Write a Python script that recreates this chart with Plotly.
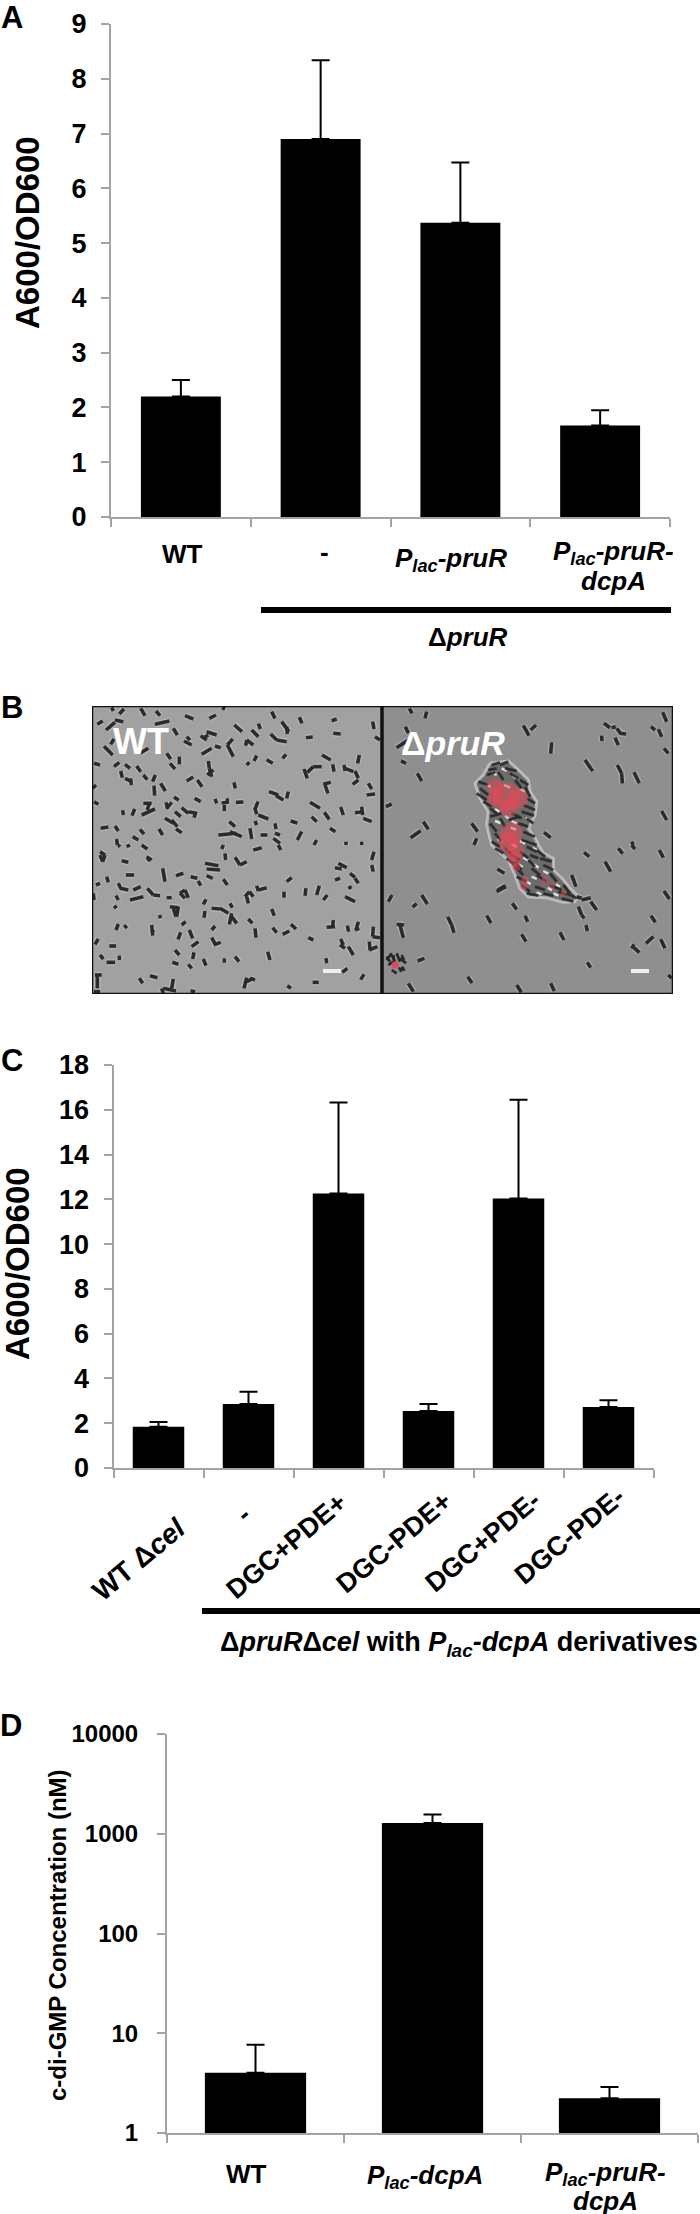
import plotly.graph_objects as go

W, H = 700, 2214
FONT = "Liberation Sans"
AXIS_GREY = "#a3a3a3"

# panel A
cats_a = ["WT", "-", "P_lac-pruR", "P_lac-pruR-dcpA"]
vals_a = [2.2, 6.9, 5.37, 1.67]
errs_a = [0.3, 1.44, 1.1, 0.28]
ticks_a = [0, 1, 2, 3, 4, 5, 6, 7, 8, 9]

# panel C
cats_c = ["WT dcel", "-", "DGC+PDE+", "DGC-PDE+", "DGC+PDE-", "DGC-PDE-"]
vals_c = [1.84, 2.86, 12.26, 2.55, 12.04, 2.72]
errs_c = [0.22, 0.55, 4.06, 0.31, 4.41, 0.31]
ticks_c = [0, 2, 4, 6, 8, 10, 12, 14, 16, 18]

# panel D
cats_d = ["WT", "P_lac-dcpA", "P_lac-pruR-dcpA"]
vals_d = [4.02, 1283, 2.23]
errs_d = [3.65, 280, 0.66]
ticks_d = [1, 10, 100, 1000, 10000]

rods_wt_top = [
    (65,68,70,78),(88,87,102,72),(152,70,165,92),(198,78,210,92),(22,118,38,108),(48,135,75,112),(75,105,100,110),
    (62,178,72,162),(42,184,68,210),(195,118,238,108),(250,130,262,150),(285,92,310,102),(358,100,378,90),(398,75,403,65),
    (545,80,555,100),(628,97,636,115),(725,107,740,102),(848,110,852,132),(433,120,456,140),(505,116,511,132),(485,135,505,155),
    (575,110,597,140),(590,125,592,147),(542,147,560,165),(560,165,590,170),(648,158,668,156),(730,145,752,147),(855,155,870,165),
    (290,155,300,165),(282,168,305,180),(332,152,350,165),(350,140,380,150),(338,160,355,150),(375,183,392,188),(335,208,365,190),
    (428,162,412,180),(412,180,430,215),(467,182,470,165),(470,165,490,180),(150,205,175,190),(230,205,242,222),(240,235,255,252),
    (268,215,268,238),(355,228,358,250),(358,250,365,275),(352,270,370,255),(470,240,478,232),(492,228,500,212),(530,224,548,235),
    (578,220,588,208),(696,210,722,225),(728,238,732,260),(803,235,808,210),(12,235,30,240),(72,245,88,232),(105,238,120,250),
    (140,243,152,260),(92,258,97,278),(105,280,125,290),(122,280,124,300),(160,270,172,284),(188,290,196,270),(290,288,310,276),
    (322,285,336,305),(642,252,652,280),(652,262,670,245),(670,245,695,245),(762,240,765,258),(765,250,790,260),(795,258,805,280),
    (788,298,805,285),(432,292,436,310),(18,300,8,310),(835,295,845,312),(830,330,855,327),(700,298,722,292),(705,300,714,325),
    (212,295,226,318),(192,302,194,332),(252,336,266,346),(314,340,332,350),(375,342,380,355),(395,354,415,352),(412,340,412,355),
    (403,360,403,378),(438,352,460,351),(504,350,494,375),(495,370,500,388),(505,390,535,402),(537,320,565,330),(595,320,590,340),
    (558,332,580,345),(12,350,25,358),(660,352,690,370),(98,376,100,390),(126,392,134,372),(160,355,185,355),(178,355,172,375),
    (155,390,195,372),(230,370,245,352),(228,352,233,372),(255,380,272,395),(275,368,295,385),(295,380,318,385),(318,380,312,398),
    (752,366,760,390),(795,383,818,380),(815,365,818,390),(703,382,718,403),(665,395,680,410),(225,400,250,415),(245,405,262,425),
    (258,432,275,443),(820,400,845,410),(32,430,55,426),(75,423,85,438),(150,433,162,447),(207,432,218,450),(128,455,145,465),
    (495,408,500,420),(602,408,622,414),(720,430,736,440),(555,415,558,432),(418,410,435,425),(385,450,440,445),(420,440,455,455),
    (480,430,485,462),(512,450,532,450),(555,445,570,450),(550,460,570,475),(635,440,622,465),(80,462,82,480),(680,465,672,480),
    (768,470,768,480),(815,470,815,480),
]
rods_wt_bottom = [
    (30,20,45,30),(30,30,38,50),(45,30,38,50),(95,47,115,52),(170,35,185,45),(172,40,180,48),(85,0,90,5),(110,5,120,0),(155,0,172,12),
    (395,12,400,0),(490,15,515,8),(405,25,407,45),(435,37,450,60),(450,60,470,50),(565,0,572,15),(845,45,852,20),(845,60,850,80),
    (345,55,385,62),(350,72,390,75),(735,68,755,72),(745,55,770,68),(108,90,132,90),(50,95,55,112),(218,70,225,110),(258,92,280,85),
    (302,95,322,100),(325,108,332,122),(350,92,368,100),(400,103,412,120),(590,110,605,98),(735,105,750,100),(780,85,795,97),
    (795,100,805,115),(85,115,92,130),(90,130,115,135),(130,135,152,125),(172,130,190,150),(190,150,210,152),(230,158,245,158),
    (270,145,285,135),(285,135,295,158),(270,145,285,160),(18,120,30,115),(10,145,12,165),(78,152,85,165),(120,165,160,155),
    (340,178,348,163),(420,175,427,188),(645,152,648,130),(680,150,688,122),(700,165,712,150),(582,140,582,158),(465,155,478,140),
    (478,140,490,155),(470,155,475,175),(500,122,505,138),(505,135,530,128),(775,130,785,125),(765,155,795,170),(72,190,80,182),
    (240,185,265,188),(250,190,258,215),(265,185,260,215),(345,198,342,218),(365,190,390,192),(390,190,415,205),(425,205,418,238),
    (425,215,440,235),(545,192,553,212),(205,216,215,214),(475,222,487,235),(275,240,287,230),(185,240,188,272),(185,255,192,262),
    (78,255,85,237),(103,240,110,250),(365,255,375,243),(298,255,308,280),(272,262,264,283),(548,248,560,263),(578,268,598,258),
    (603,238,618,252),(495,250,498,278),(710,247,735,245),(730,225,728,245),(772,242,776,260),(795,255,808,250),(805,230,798,255),
    (850,245,848,275),(848,275,870,278),(655,278,670,285),(365,278,378,302),(375,298,392,292),(305,305,325,290),(15,298,25,282),
    (58,303,78,303),(750,300,765,310),(752,282,760,300),(775,305,790,330),(838,290,840,315),(838,315,862,305),(255,315,268,330),
    (312,322,308,342),(533,320,540,345),(30,330,40,342),(88,332,88,345),(50,352,75,352),(247,352,265,358),(295,358,305,370),
    (340,342,348,362),(403,340,403,353),(435,335,447,350),(708,340,710,355),(757,382,772,370),(812,404,822,388),(180,392,202,398),
    (148,400,158,415),(250,402,245,430),(220,430,258,438),(215,430,220,445),(302,437,315,440),(470,398,462,430),(480,400,495,405),
    (470,410,490,400),(592,422,603,430),(668,412,686,412),(15,390,35,390),(22,390,22,430),(12,440,30,440),
]
rods_mut_top = [
    (88,70,96,85),(140,80,135,100),(76,125,85,145),(50,188,85,165),(63,228,78,235),(112,265,125,288),(430,122,447,152),(452,135,468,120),
    (515,172,512,206),(672,115,690,128),(695,128,707,125),(710,130,722,145),(718,145,738,147),(665,152,666,168),(705,158,715,180),
    (813,125,825,135),(835,133,845,155),(848,82,860,110),(852,190,865,205),(615,225,638,258),(712,240,725,265),(725,265,727,295),
    (762,262,778,295),(845,378,860,405),(18,365,35,357),(130,410,145,433),(92,458,122,437),(275,415,293,440),(282,480,290,460),
    (492,442,512,458),(755,470,760,480),
]
rods_mut_bottom = [
    (612,22,628,35),(675,50,692,80),(715,10,728,26),(755,0,765,12),(838,15,850,38),(852,138,868,162),(352,72,373,85),(350,140,378,125),
    (352,136,376,122),(575,90,588,125),(590,155,605,160),(605,165,632,158),(632,170,650,195),(595,185,605,210),(605,210,613,220),
    (397,175,410,193),(435,212,443,230),(320,212,333,234),(203,215,215,240),(215,240,222,263),(36,150,25,170),(125,150,142,177),
    (98,186,110,176),(50,238,72,240),(60,240,70,278),(425,268,438,290),(540,262,552,285),(618,240,622,258),(813,212,826,232),
    (798,295,820,275),(842,283,855,310),(755,310,762,298),(762,308,778,323),(622,352,632,368),(113,348,133,340),(263,395,276,414),
    (85,415,100,440),(410,420,424,442),(512,415,523,438),(865,390,875,400),
]
# clump in the mutant field, same crop as rods_mut_top with y running on past 480
clump_outline = [
    (330,235),(385,228),(415,255),(445,285),(450,320),(470,350),(465,390),(445,430),(465,460),(475,480),(490,505),(520,520),(520,555),
    (550,585),(570,610),(590,630),(585,650),(550,652),(500,638),(445,635),(420,610),(405,570),(385,525),(345,490),(335,480),(320,420),
    (325,380),(300,340),(285,295),(310,270),
]
clump_rods = [
    (335,240,360,232),(360,240,385,230),(325,255,350,250),(375,250,410,258),(320,270,345,262),(355,262,370,285),(390,265,415,280),
    (295,290,325,300),(300,310,325,330),(420,285,445,300),(405,285,425,310),(435,305,450,335),(290,325,320,345),(310,350,335,365),
    (440,340,465,355),(430,360,465,375),(330,370,350,385),(425,380,462,392),(395,385,425,400),(330,395,365,385),(385,405,420,395),
    (330,415,350,440),(415,415,445,425),(345,445,365,470),(430,440,465,455),(335,470,360,485),(425,465,470,480),(375,488,395,510),
    (440,485,470,500),(345,490,370,505),(420,500,445,520),(470,495,495,515),(380,520,405,540),(445,525,465,545),(480,520,515,530),
    (405,545,430,570),(455,550,480,570),(490,540,520,555),(410,575,440,590),(470,570,500,590),(510,565,530,590),(425,600,450,620),
    (465,605,495,615),(510,600,545,615),(440,625,475,632),(490,625,520,632),(535,620,560,630),(550,600,570,625),(560,625,590,640),
    (545,640,580,650),(395,510,420,525),(405,530,425,555),(450,510,475,520),(360,400,375,425),(440,400,460,415),
]
clump_light_rods = [
    (335,262,350,270),(365,250,380,258),(398,272,410,280),(318,298,332,306),(420,312,434,320),(372,300,390,308),(345,372,358,380),
    (345,408,362,414),(375,392,388,402),(438,398,452,406),(392,428,408,434),(352,462,368,470),(395,408,410,416),(420,468,436,476),
    (458,488,472,496),(395,478,410,486),(430,518,445,526),(462,538,476,548),(490,558,505,566),(438,588,452,598),(503,608,516,616),
    (528,598,540,606),(470,622,484,628),(415,538,428,546),(455,575,470,582),(520,625,535,632),
]
clump_red_x = [345,380,415,345,385,395,385,405,405,410,435,432,495,517,550]
clump_red_y = [305,335,340,340,370,445,470,495,520,545,585,605,585,600,628]
clump_red_s = [16,28,20,16,18,22,20,18,14,8,7,7,7,6,6]
# small clump low on the left of the mutant field, rods_mut_bottom crop
clump2_rods = [
    (20,345,35,325),(35,330,45,350),(50,325,60,350),(60,340,78,355),(25,360,40,350),(35,375,50,385),(55,370,75,375),(60,380,70,365),
    (40,330,42,345),(20,335,30,350),(65,330,72,345),
]
smudge_rods = [(120,1060,147,1085)]


def fx(x):
    return x / W


def fy(y):
    return 1 - y / H


def rod_xy(rods, ox, oy):
    xs, ys = [], []
    for x0, y0, x1, y1 in rods:
        xs += [ox + x0 / 3, ox + x1 / 3, None]
        ys += [oy + y0 / 3, oy + y1 / 3, None]
    return xs, ys


def label(text, x, y, size=26, color="black", angle=0, xref="paper", xshift=0):
    px = x if xref != "paper" else fx(x)
    return dict(text=text, x=px, y=fy(y), xref=xref, yref="paper", xshift=xshift, showarrow=False,
                xanchor="center", yanchor="middle", textangle=angle, align="center",
                font=dict(family=FONT, size=size, color=color, weight="bold"))


fig = go.Figure()

for n, (cats, vals, errs) in enumerate([(cats_a, vals_a, errs_a), (cats_c, vals_c, errs_c), (cats_d, vals_d, errs_d)], start=1):
    fig.add_trace(go.Bar(
        x=cats, y=vals, xaxis=f"x{n}", yaxis=f"y{n}", marker=dict(color="black", line=dict(width=0)),
        error_y=dict(type="data", symmetric=False, array=errs, arrayminus=[0] * len(errs),
                     color="black", thickness=2, width=9),
        showlegend=False,
    ))


def bar_axes(n, cats, x0, x1, top, bottom, ticks, log=False):
    xa = dict(domain=[fx(x0), fx(x1)], type="category", categoryorder="array", categoryarray=cats,
              range=[-0.5, len(cats) - 0.5], tickson="boundaries", ticks="outside", ticklen=8, tickwidth=2,
              tickcolor=AXIS_GREY, linecolor=AXIS_GREY, linewidth=2, showticklabels=False, showgrid=False,
              anchor=f"y{n}", zeroline=False, automargin=False)
    ya = dict(domain=[fy(bottom), fy(top)], ticks="outside", ticklen=8, tickwidth=2, tickcolor=AXIS_GREY,
              linecolor=AXIS_GREY, linewidth=2, showgrid=False, zeroline=False, anchor=f"x{n}", automargin=False,
              tickvals=ticks, ticktext=[str(t) for t in ticks], ticklabelstandoff=9,
              tickfont=dict(family=FONT, size=27, color="black", weight="bold"))
    if log:
        ya.update(type="log", range=[0, 4], ticklabelstandoff=14,
                  tickfont=dict(family=FONT, size=24, color="black", weight="bold"))
    else:
        ya.update(range=[0, ticks[-1]])
    fig.update_layout({f"xaxis{n}": xa, f"yaxis{n}": ya})


bar_axes(1, cats_a, 111, 670, 24, 517, ticks_a)
bar_axes(2, cats_c, 113.5, 653.5, 1065, 1468, ticks_c)
bar_axes(3, cats_d, 167, 698, 1734, 2133, ticks_d, log=True)

# micrograph panel, axis units are page pixels
fig.update_layout(
    xaxis4=dict(domain=[fx(92), fx(673)], range=[92, 673], visible=False, anchor="y4", automargin=False),
    yaxis4=dict(domain=[fy(994), fy(706)], range=[994, 706], visible=False, anchor="x4", automargin=False),
)

micro = dict(xaxis="x4", yaxis="y4", showlegend=False, hoverinfo="skip")

rod_x, rod_y = [], []
for rods, ox, oy in [(rods_wt_top, 90, 685), (rods_wt_bottom, 90, 845), (rods_mut_top, 380, 685), (rods_mut_bottom, 380, 845)]:
    xs, ys = rod_xy(rods, ox, oy)
    rod_x += xs
    rod_y += ys

clump_x = [380 + p[0] / 3 for p in clump_outline] + [380 + clump_outline[0][0] / 3]
clump_y = [685 + p[1] / 3 for p in clump_outline] + [685 + clump_outline[0][1] / 3]
fig.add_trace(go.Scatter(x=clump_x, y=clump_y, mode="lines", fill="toself", fillcolor="#6c6c6c",
                         line=dict(color="rgba(235,235,235,0.55)", width=3), **micro))
fig.add_trace(go.Scatter(x=rod_x, y=rod_y, mode="lines", line=dict(color="rgba(225,225,225,0.3)", width=6.5), **micro))
smx, smy = rod_xy(smudge_rods, 90, 685)
fig.add_trace(go.Scatter(x=smx, y=smy, mode="lines", line=dict(color="#777777", width=3), **micro))
fig.add_trace(go.Scatter(x=rod_x, y=rod_y, mode="lines", line=dict(color="#2b2b2b", width=3.6), **micro))

lx, ly = rod_xy(clump_light_rods, 380, 685)
fig.add_trace(go.Scatter(x=lx, y=ly, mode="lines", line=dict(color="rgba(245,245,245,0.85)", width=2.4), **micro))
cx, cy = rod_xy(clump_rods, 380, 685)
fig.add_trace(go.Scatter(x=cx, y=cy, mode="lines", line=dict(color="rgba(40,40,40,0.9)", width=2.8), **micro))
fig.add_trace(go.Scatter(x=[380 + v / 3 for v in clump_red_x], y=[685 + v / 3 for v in clump_red_y], mode="markers",
                         marker=dict(color="rgba(245,70,85,0.68)", size=clump_red_s, line=dict(width=0)), **micro))
c2x, c2y = rod_xy(clump2_rods, 380, 845)
fig.add_trace(go.Scatter(x=c2x, y=c2y, mode="lines", line=dict(color="#262626", width=2.6), **micro))
fig.add_trace(go.Scatter(x=[395], y=[965], mode="markers", marker=dict(color="rgba(240,60,80,0.85)", size=7), **micro))

shapes = [
    # microscope field backgrounds
    dict(type="rect", xref="x4", yref="y4", x0=92, x1=382, y0=706, y1=994, fillcolor="#a1a1a1", line_width=0, layer="below"),
    dict(type="rect", xref="x4", yref="y4", x0=382, x1=673, y0=706, y1=994, fillcolor="#8f8f8f", line_width=0, layer="below"),
    # scale bars
    dict(type="rect", xref="x4", yref="y4", x0=323, x1=341, y0=969, y1=973, fillcolor="#efefef", line_width=0),
    dict(type="rect", xref="x4", yref="y4", x0=631, x1=649, y0=969, y1=973, fillcolor="#efefef", line_width=0),
    # frame and divider
    dict(type="rect", xref="x4", yref="y4", x0=92, x1=673, y0=706, y1=994, line=dict(color="#111111", width=2.5)),
    dict(type="line", xref="x4", yref="y4", x0=382, x1=382, y0=706, y1=994, line=dict(color="#111111", width=3.5)),
    # group bars under A and C
    dict(type="rect", xref="paper", yref="paper", x0=fx(261), x1=fx(671), y0=fy(613), y1=fy(607), fillcolor="black", line_width=0),
    dict(type="rect", xref="paper", yref="paper", x0=fx(202), x1=fx(700), y0=fy(1614), y1=fy(1608), fillcolor="black", line_width=0),
]

P_PRUR = "<i>P<sub>lac</sub>-pruR</i>"
P_PRUR2 = "<i>P<sub>lac</sub>-pruR-</i>"
P_DCPA = "<i>P<sub>lac</sub>-dcpA</i>"
annotations = [
    # panel letters
    label("A", 12, 17, size=31), label("B", 12, 707, size=31), label("C", 12, 1060, size=31), label("D", 11, 1725, size=31),
    # y titles
    label("A600/OD600", 27, 233, size=33, angle=-90),
    label("A600/OD600", 17, 1264, size=33, angle=-90),
    label("c-di-GMP Concentration (nM)", 57, 1935, size=24, angle=-90),
    # panel A categories
    label("WT", cats_a[0], 554, xref="x1", xshift=2),
    label("-", cats_a[1], 552, xref="x1", xshift=4),
    label(P_PRUR, cats_a[2], 559, xref="x1", xshift=-9),
    label(P_PRUR2, cats_a[3], 553, xref="x1", xshift=13),
    label("<i>dcpA</i>", cats_a[3], 581, xref="x1", xshift=13),
    label("Δ<i>pruR</i>", 468, 637),
    # panel C categories
    label("WT Δ<i>cel</i>", cats_c[0], 1559, size=28, angle=-40, xref="x2", xshift=-20),
    label("-", cats_c[1], 1514, size=27, angle=-40, xref="x2", xshift=-5),
    label("DGC+PDE+", cats_c[2], 1546, size=27, angle=-40, xref="x2", xshift=-52),
    label("DGC-PDE+", cats_c[3], 1543, size=27, angle=-40, xref="x2", xshift=-35),
    label("DGC+PDE-", cats_c[4], 1542, size=27, angle=-40, xref="x2", xshift=-36),
    label("DGC-PDE-", cats_c[5], 1536, size=27, angle=-40, xref="x2", xshift=-39),
    label("Δ<i>pruR</i>Δ<i>cel</i> with <i>P<sub>lac</sub>-dcpA</i> derivatives", 459, 1644, size=27),
    # panel D categories
    label("WT", cats_d[0], 2174, xref="x3", xshift=-9),
    label(P_DCPA, cats_d[1], 2176, xref="x3", xshift=-8),
    label(P_PRUR2, cats_d[2], 2173, xref="x3", xshift=-4),
    label("<i>dcpA</i>", cats_d[2], 2201, xref="x3", xshift=-4),
    # micrograph captions
    label("WT", 141, 741, size=36, color="white"),
    label("Δ<i>pruR</i>", 453, 743, size=34, color="white"),
]

fig.update_layout(
    width=W, height=H, margin=dict(l=0, r=0, t=0, b=0), autosize=False,
    paper_bgcolor="white", plot_bgcolor="white", bargap=0.428, showlegend=False,
    shapes=shapes, annotations=annotations,
)

fig.write_html("out.html", config={"displayModeBar": False},
               post_script="document.body.style.margin='0';document.body.style.overflow='hidden';")
